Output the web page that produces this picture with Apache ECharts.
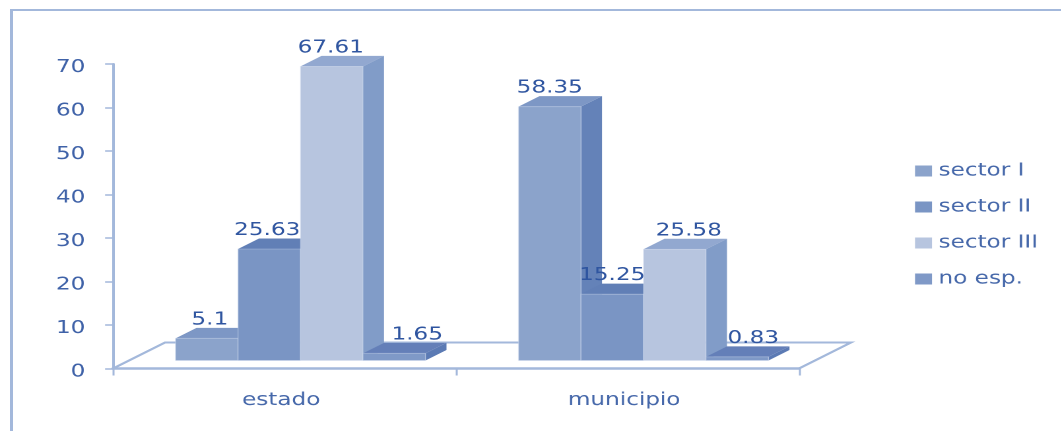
<!DOCTYPE html>
<html>
<head>
<meta charset="utf-8">
<style>
html,body{margin:0;padding:0;background:#fff;width:1061px;height:431px;overflow:hidden}
#chart{position:absolute;left:0;top:0;width:804px;height:431px;transform-origin:0 0;transform:scaleX(1.32);filter:blur(0.45px)}
#frame{position:absolute;left:10px;top:9px;width:1060px;height:430px;border-left:3px solid #A3B8DB;border-top:2px solid #A3B8DB}
</style>
</head>
<body>
<div id="chart"></div>
<div id="frame"></div>
<script src="https://cdn.jsdelivr.net/npm/echarts@6/dist/echarts.min.js"></script>
<script>
const categories = ['estado', 'municipio'];
const seriesNames = ['sector I', 'sector II', 'sector III', 'no esp.'];
const sectorI = [5.1, 58.35];
const sectorII = [25.63, 15.25];
const sectorIII = [67.61, 25.58];
const noEsp = [1.65, 0.83];
const yTicks = { min: 0, max: 70, interval: 10 };

const SX = 1.32;
const values = [sectorI, sectorII, sectorIII, noEsp];
const palette = [
  { front: '#8BA3CB', top: '#7D97C5', side: '#6482B8' },
  { front: '#7A95C4', top: '#617FB6', side: '#617FB6' },
  { front: '#B7C5DF', top: '#92A8D0', side: '#819CC8' },
  { front: '#7F99C7', top: '#647FB8', side: '#5B7AB4' }
];
const labelNudge = [[3, 0], [-2, 0], [-1, 14], [23, 16]];
const depthX = 21 / SX, depthY = 10.5, lift = 8;
const edge = 'rgba(215,225,242,0.4)';

function geom(api, s) {
  const cat = api.value(0), val = api.value(1);
  const band = api.size([1, 0])[0];
  const w = band * 0.1822;
  const c = api.coord([cat, val]);
  const z = api.coord([cat, 0]);
  const x = c[0] + 16 / SX + (s - 2) * w;
  return { cat, val, w, x, top: c[1] - lift, base: z[1] - lift };
}

function barItem(s) {
  return function (params, api) {
    const g = geom(api, s), p = palette[s];
    return {
      type: 'group',
      children: [
        { type: 'polygon', shape: { points: [[g.x + g.w, g.top], [g.x + g.w + depthX, g.top - depthY], [g.x + g.w + depthX, g.base - depthY], [g.x + g.w, g.base]] }, style: { fill: p.side } },
        { type: 'polygon', shape: { points: [[g.x, g.top], [g.x + depthX, g.top - depthY], [g.x + g.w + depthX, g.top - depthY], [g.x + g.w, g.top]] }, style: { fill: p.top } },
        { type: 'rect', shape: { x: g.x, y: g.top, width: g.w, height: g.base - g.top }, style: { fill: p.front, stroke: edge, lineWidth: 0.8 } }
      ]
    };
  };
}

function labelItem(s) {
  return function (params, api) {
    const g = geom(api, s);
    return {
      type: 'text',
      style: {
        x: g.x + g.w / 2 + labelNudge[s][g.cat] / SX,
        y: g.top - depthY - 8,
        text: String(g.val),
        fill: '#2F55A0',
        font: '17.5px "DejaVu Sans"',
        align: 'center',
        verticalAlign: 'middle'
      }
    };
  };
}

function floorItem(params, api) {
  const cs = params.coordSys;
  const y0 = api.coord([0, 0])[1];
  const l = cs.x, r = cs.x + cs.width, bx = 52 / SX, by = 26;
  return {
    type: 'polyline',
    shape: { points: [[l, y0], [l + bx, y0 - by], [r + bx, y0 - by], [r, y0]] },
    style: { fill: null, stroke: '#A3B8DB', lineWidth: 2 }
  };
}

const series = [{
  type: 'custom', name: 'floor', z: 1, silent: true,
  renderItem: floorItem, data: [[0, 0]], encode: { x: 0, y: 1 }
}];
seriesNames.forEach(function (name, s) {
  series.push({
    type: 'custom', name: name, z: 2, itemStyle: { color: palette[s].front },
    renderItem: barItem(s), encode: { x: 0, y: 1 },
    data: categories.map(function (c, i) { return [i, values[s][i]]; })
  });
});
seriesNames.forEach(function (name, s) {
  series.push({
    type: 'custom', name: name + ' labels', z: 5, silent: true,
    renderItem: labelItem(s), encode: { x: 0, y: 1 },
    data: categories.map(function (c, i) { return [i, values[s][i]]; })
  });
});

const chart = echarts.init(document.getElementById('chart'), null, { devicePixelRatio: 2 });
chart.setOption({
  animation: false,
  backgroundColor: '#fff',
  textStyle: { fontFamily: 'DejaVu Sans' },
  grid: { left: 113 / SX, width: 686 / SX, top: 64, height: 304.5 },
  legend: {
    data: seriesNames, orient: 'vertical',
    left: 915 / SX, top: 162, padding: 0,
    itemWidth: 17 / SX, itemHeight: 11, itemGap: 18, icon: 'rect',
    textStyle: { color: '#4668AA', fontSize: 17.5 }
  },
  xAxis: {
    type: 'category', data: categories,
    axisLine: { onZero: false, lineStyle: { color: '#A3B8DB', width: 2.5 } },
    axisTick: { show: true, alignWithLabel: false, length: 7, lineStyle: { color: '#A3B8DB', width: 1.5 } },
    axisLabel: { color: '#4668AA', fontSize: 17.5, margin: 23, padding: [0, 5, 0, 0] }
  },
  yAxis: {
    type: 'value', min: yTicks.min, max: yTicks.max, interval: yTicks.interval,
    axisLine: { show: true, lineStyle: { color: '#A3B8DB', width: 2 } },
    axisTick: { show: true, length: 6, lineStyle: { color: '#A3B8DB', width: 1.5 } },
    splitLine: { show: false },
    axisLabel: { color: '#3F62A8', fontSize: 17.5, margin: 21, verticalAlign: 'top', lineHeight: 7 }
  },
  series: series
});
</script>
</body>
</html>
